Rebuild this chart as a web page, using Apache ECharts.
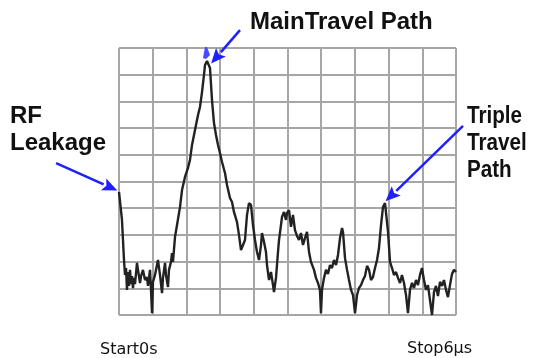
<!DOCTYPE html>
<html>
<head>
<meta charset="utf-8">
<script src="https://cdn.jsdelivr.net/npm/echarts@6/dist/echarts.min.js"></script>
<style>html,body{margin:0;padding:0;background:#fff}#c{width:539px;height:358px}</style>
</head>
<body>
<div id="c"></div>
<script>
// time in microseconds (0..6 µs span)
var timeUs = [0.000,0.018,0.053,0.071,0.089,0.107,0.125,0.142,0.160,0.178,0.196,0.214,0.231,0.249,0.267,0.285,0.320,0.338,0.374,0.392,0.427,0.463,0.498,0.516,0.552,0.570,0.588,0.605,0.641,0.694,0.730,0.766,0.783,0.819,0.837,0.872,0.890,0.926,0.944,0.961,0.997,1.033,1.086,1.122,1.175,1.228,1.264,1.300,1.353,1.407,1.442,1.478,1.513,1.531,1.567,1.602,1.620,1.656,1.691,1.727,1.763,1.798,1.834,1.887,1.923,1.976,2.012,2.047,2.101,2.136,2.172,2.208,2.243,2.279,2.314,2.350,2.386,2.421,2.457,2.493,2.528,2.546,2.582,2.617,2.635,2.671,2.706,2.742,2.760,2.795,2.831,2.849,2.884,2.902,2.938,2.973,2.991,3.027,3.062,3.098,3.133,3.169,3.205,3.240,3.276,3.311,3.347,3.383,3.418,3.472,3.507,3.543,3.578,3.596,3.614,3.650,3.685,3.721,3.757,3.792,3.828,3.864,3.899,3.935,3.971,3.988,4.024,4.060,4.095,4.131,4.166,4.202,4.238,4.273,4.309,4.344,4.380,4.416,4.451,4.487,4.522,4.558,4.594,4.629,4.665,4.700,4.736,4.754,4.790,4.825,4.861,4.896,4.932,4.967,5.003,5.038,5.074,5.110,5.145,5.181,5.217,5.252,5.288,5.323,5.359,5.394,5.430,5.466,5.501,5.537,5.573,5.608,5.644,5.679,5.715,5.751,5.786,5.822,5.857,5.893,5.929,5.964,6.000];
// response amplitude in vertical divisions (0..10)
var amplitude = [4.61,4.57,3.56,2.81,2.06,1.50,1.76,0.94,1.61,1.09,1.69,1.16,1.46,1.01,1.39,1.16,1.95,1.69,1.20,1.46,1.69,1.31,1.42,1.09,1.69,0.94,0.07,1.24,1.50,2.06,1.50,0.82,1.39,1.95,1.50,1.05,1.69,1.99,2.32,1.99,2.92,3.37,4.04,4.68,5.17,5.51,5.81,6.37,6.93,7.49,7.79,8.35,8.99,9.36,9.51,9.48,9.25,8.05,7.19,6.74,6.37,6.07,5.73,5.32,4.87,4.38,4.23,3.86,3.48,3.00,2.43,2.62,2.81,3.75,4.19,4.12,3.37,2.81,2.36,2.06,2.62,3.07,2.73,2.36,1.87,1.31,1.61,1.12,0.86,1.39,2.36,2.81,3.37,3.67,3.86,3.56,3.82,3.93,3.30,3.75,3.18,2.96,2.81,3.07,2.62,2.88,3.11,2.36,1.99,1.69,1.39,1.20,0.94,0.07,0.94,1.39,1.69,1.54,1.87,1.76,2.06,1.87,2.25,2.88,3.26,3.11,2.13,1.69,1.31,0.94,0.75,0.07,0.75,1.01,1.12,1.31,1.46,1.84,1.69,1.31,1.42,1.76,2.06,2.51,3.37,4.04,4.19,4.12,3.11,1.99,1.76,1.50,1.61,1.39,1.20,1.50,1.20,0.75,0.07,0.94,1.20,1.01,1.31,1.12,1.50,1.76,1.31,0.94,1.12,0.56,0.00,0.86,1.09,0.71,1.24,1.09,1.31,0.94,0.67,1.12,1.54,1.69,1.61];
var startLabel = 'Start0s';
var stopLabel = 'Stop6µs';
var mainLabel = 'MainTravel Path';
var leakLabel = ['RF', 'Leakage'];
var tripleLabel = ['Triple', 'Travel', 'Path'];

var chart = echarts.init(document.getElementById('c'), null, {renderer: 'canvas'});
var pts = timeUs.map(function (t, i) { return [t, amplitude[i]]; });
var gridLine = {show: true, lineStyle: {color: '#a6a6a6', width: 2}};
chart.setOption({
  animation: false,
  grid: {left: 119, right: 83, top: 48, bottom: 43},
  xAxis: {type: 'value', min: 0, max: 6, interval: 0.6,
    axisLine: {show: false}, axisTick: {show: false}, axisLabel: {show: false},
    splitLine: gridLine},
  yAxis: {type: 'value', min: 0, max: 10, interval: 1,
    axisLine: {show: false}, axisTick: {show: false}, axisLabel: {show: false},
    splitLine: gridLine},
  series: [{type: 'line', data: pts, symbol: 'none', clip: false,
    lineStyle: {color: '#222', width: 2.4}}]
});

function px(x, y) { return chart.convertToPixel({gridIndex: 0}, [x, y]); }
var blue = '#1f1fff';
function arrow(tail, head) {
  var a = px(tail[0], tail[1]), b = px(head[0], head[1]);
  var dx = b[0] - a[0], dy = b[1] - a[1], L = Math.sqrt(dx * dx + dy * dy);
  var ux = dx / L, uy = dy / L, hl = 15, hw = 6.5;
  var bx = b[0] - ux * hl, by = b[1] - uy * hl;
  return [
    {type: 'line', shape: {x1: a[0], y1: a[1], x2: bx, y2: by}, style: {stroke: blue, lineWidth: 2.5}},
    {type: 'polygon', shape: {points: [[b[0], b[1]], [bx - uy * hw, by + ux * hw], [bx + ux * 3, by + uy * 3], [bx + uy * hw, by - ux * hw]]}, style: {fill: blue}}
  ];
}
var g = [];
g = g.concat(arrow([2.154, 10.67], [1.640, 9.42]));
g = g.concat(arrow([-1.12, 5.69], [-0.03, 4.66]));
g = g.concat(arrow([6.125, 7.08], [4.745, 4.26]));
var m = px(1.549, 9.85);
g.push({type: 'polygon', shape: {points: [[m[0] - 3, m[1] + 6], [m[0] - 1, m[1] - 5], [m[0] + 1, m[1] - 5], [m[0] + 4, m[1] + 3], [m[0], m[1] + 7]]}, style: {fill: '#4a4aff'}});
function txt(s, x, y, font, sx) {
  return {type: 'text', x: x, y: y, scaleX: sx || 1, style: {text: s, font: font, fill: '#111', align: 'left', verticalAlign: 'middle'}};
}
var bold = 'bold 24px "Liberation Sans", Arial, sans-serif';
g.push(txt(mainLabel, 250, 22, bold));
g.push(txt(leakLabel[0], 10, 116, bold));
g.push(txt(leakLabel[1], 10, 143, bold));
g.push(txt(tripleLabel[0], 467, 116, bold, 0.86));
g.push(txt(tripleLabel[1], 467, 143, bold, 0.86));
g.push(txt(tripleLabel[2], 467, 170, bold, 0.86));
var thin = '16px "DejaVu Sans", sans-serif';
g.push(txt(startLabel, 100, 350, thin));
g.push(txt(stopLabel, 407, 349, thin));
chart.setOption({graphic: g});
</script>
</body>
</html>
